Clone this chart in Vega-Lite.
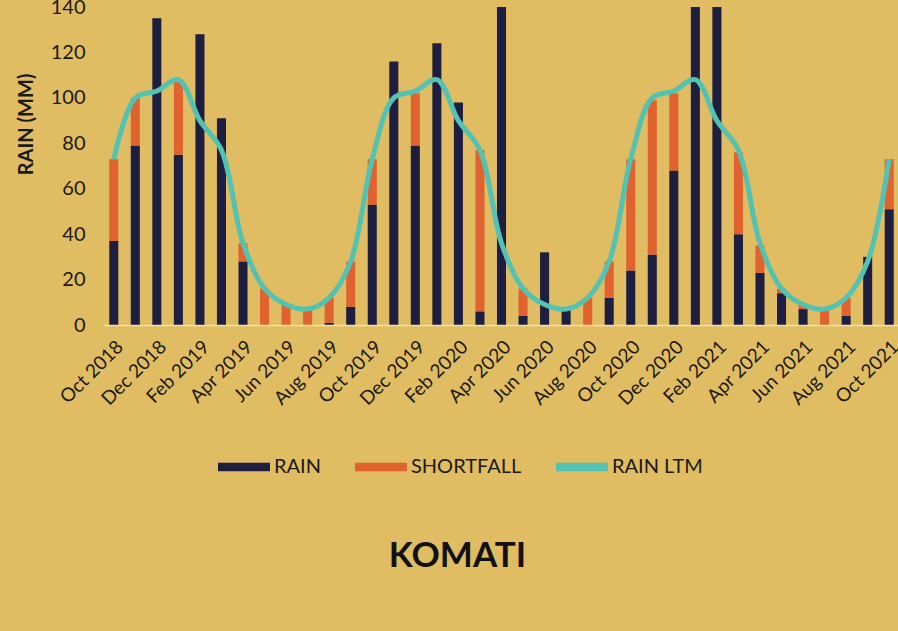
{
  "$schema": "https://vega.github.io/schema/vega-lite/v6.json",
  "autosize": "none",
  "padding": {"left": 103, "top": 7, "right": 0, "bottom": 306},
  "width": 797,
  "height": 318,
  "background": "#E0BC62",
  "config": {
    "view": {"stroke": null},
    "font": "Lato",
    "axis": {"labelColor": "#1c1a14", "titleColor": "#1c1a14", "labelFont": "Lato", "titleFont": "Lato"},
    "legend": {"labelFont": "Lato"}
  },
  "title": {
    "text": "KOMATI",
    "orient": "bottom",
    "anchor": "middle",
    "fontSize": 35,
    "fontWeight": "bold",
    "font": "Lato",
    "color": "#111111",
    "dx": -44,
    "offset": 62
  },
  "data": {
    "values": [
      {"month": "Oct 2018", "RAIN": 37, "SHORTFALL": 36, "ltm": 73},
      {"month": "Nov 2018", "RAIN": 79, "SHORTFALL": 21, "ltm": 100},
      {"month": "Dec 2018", "RAIN": 135, "SHORTFALL": 0, "ltm": 103},
      {"month": "Jan 2019", "RAIN": 75, "SHORTFALL": 33, "ltm": 108},
      {"month": "Feb 2019", "RAIN": 128, "SHORTFALL": 0, "ltm": 90},
      {"month": "Mar 2019", "RAIN": 91, "SHORTFALL": 0, "ltm": 77},
      {"month": "Apr 2019", "RAIN": 28, "SHORTFALL": 8, "ltm": 36},
      {"month": "May 2019", "RAIN": 0, "SHORTFALL": 16, "ltm": 16},
      {"month": "Jun 2019", "RAIN": 0, "SHORTFALL": 9, "ltm": 9},
      {"month": "Jul 2019", "RAIN": 0, "SHORTFALL": 7, "ltm": 7},
      {"month": "Aug 2019", "RAIN": 1, "SHORTFALL": 11, "ltm": 12},
      {"month": "Sep 2019", "RAIN": 8, "SHORTFALL": 20, "ltm": 28},
      {"month": "Oct 2019", "RAIN": 53, "SHORTFALL": 20, "ltm": 73},
      {"month": "Nov 2019", "RAIN": 116, "SHORTFALL": 0, "ltm": 100},
      {"month": "Dec 2019", "RAIN": 79, "SHORTFALL": 23, "ltm": 103},
      {"month": "Jan 2020", "RAIN": 124, "SHORTFALL": 0, "ltm": 108},
      {"month": "Feb 2020", "RAIN": 98, "SHORTFALL": 0, "ltm": 90},
      {"month": "Mar 2020", "RAIN": 6, "SHORTFALL": 71, "ltm": 77},
      {"month": "Apr 2020", "RAIN": 142, "SHORTFALL": 0, "ltm": 36},
      {"month": "May 2020", "RAIN": 4, "SHORTFALL": 12, "ltm": 16},
      {"month": "Jun 2020", "RAIN": 32, "SHORTFALL": 0, "ltm": 9},
      {"month": "Jul 2020", "RAIN": 7, "SHORTFALL": 0, "ltm": 7},
      {"month": "Aug 2020", "RAIN": 0, "SHORTFALL": 12, "ltm": 12},
      {"month": "Sep 2020", "RAIN": 12, "SHORTFALL": 16, "ltm": 28},
      {"month": "Oct 2020", "RAIN": 24, "SHORTFALL": 49, "ltm": 73},
      {"month": "Nov 2020", "RAIN": 31, "SHORTFALL": 68, "ltm": 100},
      {"month": "Dec 2020", "RAIN": 68, "SHORTFALL": 34, "ltm": 103},
      {"month": "Jan 2021", "RAIN": 170, "SHORTFALL": 0, "ltm": 108},
      {"month": "Feb 2021", "RAIN": 160, "SHORTFALL": 0, "ltm": 90},
      {"month": "Mar 2021", "RAIN": 40, "SHORTFALL": 36, "ltm": 77},
      {"month": "Apr 2021", "RAIN": 23, "SHORTFALL": 12, "ltm": 36},
      {"month": "May 2021", "RAIN": 14, "SHORTFALL": 2, "ltm": 16},
      {"month": "Jun 2021", "RAIN": 7, "SHORTFALL": 2, "ltm": 9},
      {"month": "Jul 2021", "RAIN": 0, "SHORTFALL": 7, "ltm": 7},
      {"month": "Aug 2021", "RAIN": 4, "SHORTFALL": 8, "ltm": 12},
      {"month": "Sep 2021", "RAIN": 30, "SHORTFALL": 0, "ltm": 28},
      {"month": "Oct 2021", "RAIN": 51, "SHORTFALL": 22, "ltm": 73}
    ]
  },
  "encoding": {
    "x": {
      "field": "month",
      "type": "ordinal",
      "sort": null,
      "scale": {"paddingInner": 0, "paddingOuter": 0},
      "axis": {
        "title": null,
        "values": ["Oct 2018", "Dec 2018", "Feb 2019", "Apr 2019", "Jun 2019", "Aug 2019", "Oct 2019", "Dec 2019", "Feb 2020", "Apr 2020", "Jun 2020", "Aug 2020", "Oct 2020", "Dec 2020", "Feb 2021", "Apr 2021", "Jun 2021", "Aug 2021", "Oct 2021"],
        "labelAngle": -45,
        "labelFontSize": 19,
        "labelPadding": 12,
        "ticks": false,
        "domainColor": "#F3E3A8",
        "domainWidth": 1.5,
        "zindex": 1
      }
    }
  },
  "layer": [
    {
      "transform": [{"fold": ["RAIN", "SHORTFALL"], "as": ["series", "value"]}],
      "mark": {"type": "bar", "width": {"band": 0.42}, "clip": true},
      "encoding": {
        "y": {
          "field": "value",
          "type": "quantitative",
          "stack": "zero",
          "scale": {"domain": [0, 140]},
          "axis": {
            "title": "RAIN (MM)",
            "titleFontSize": 20,
            "titleFontWeight": "bold",
            "titlePadding": 14,
            "titleY": 117,
            "values": [0, 20, 40, 60, 80, 100, 120, 140],
            "labelFontSize": 20,
            "labelPadding": 18,
            "grid": false,
            "ticks": false,
            "domain": false
          }
        },
        "color": {
          "field": "series",
          "type": "nominal",
          "scale": {"domain": ["RAIN", "SHORTFALL", "RAIN LTM"], "range": ["#1E1E40", "#E0622F", "#52C3B2"]},
          "legend": {
            "title": null,
            "orient": "none",
            "direction": "horizontal",
            "legendX": 115,
            "legendY": 434,
            "symbolType": "M-1,-0.16H1V0.16H-1Z",
            "symbolSize": 2700,
            "symbolStrokeWidth": 0,
            "labelFontSize": 20,
            "labelColor": "#1c1a14",
            "labelOffset": 4,
            "columnPadding": 34
          }
        },
        "order": {"field": "series", "sort": "ascending"}
      }
    },
    {
      "mark": {"type": "line", "strokeWidth": 5, "interpolate": "catmull-rom", "clip": true},
      "encoding": {
        "y": {"field": "ltm", "type": "quantitative"},
        "color": {"datum": "RAIN LTM"}
      }
    }
  ]
}
